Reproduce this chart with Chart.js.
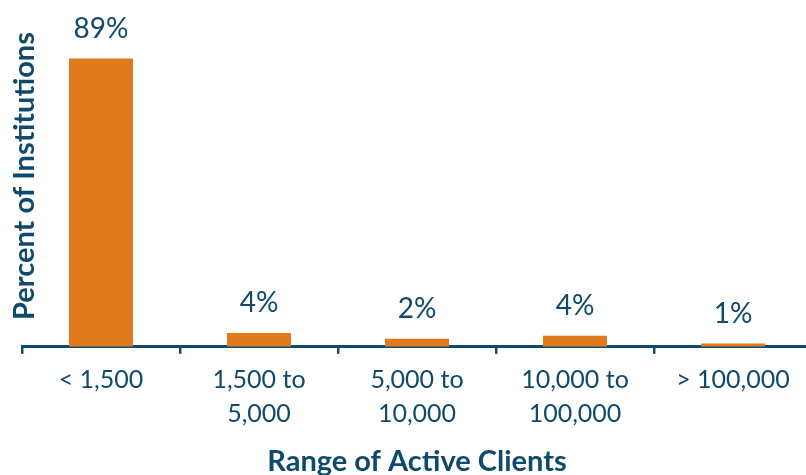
<!DOCTYPE html>
<html>
<head>
<meta charset="utf-8">
<script src="https://cdn.jsdelivr.net/npm/chart.js@4"></script>
<style>
  html, body { margin: 0; padding: 0; background: #fff; overflow: hidden; }
  #wrap { width: 812px; height: 475px; }
</style>
</head>
<body>
<div id="wrap"><canvas id="clientsChart" width="812" height="475"></canvas></div>
<script>
const categories = [["< 1,500"], ["1,500 to", "5,000"], ["5,000 to", "10,000"], ["10,000 to", "100,000"], ["> 100,000"]];
const percents = [89, 4.3, 2.5, 3.4, 1];
const percentLabels = ["89%", "4%", "2%", "4%", "1%"];

const navy = "#0F4A6C";
const orange = "#DF7A1E";

// value labels above bars + rotated y title
const labelPlugin = {
  id: "barLabels",
  afterDatasetsDraw(chart) {
    const ctx = chart.ctx;
    const meta = chart.getDatasetMeta(0);
    ctx.save();
    ctx.fillStyle = navy;
    ctx.font = "28px Lato";
    ctx.textAlign = "center";
    ctx.textBaseline = "middle";
    meta.data.forEach((bar, i) => {
      ctx.fillText(percentLabels[i], bar.x, bar.y - 30);
    });
    ctx.translate(25, 176);
    ctx.rotate(-Math.PI / 2);
    ctx.font = "bold 29px Lato";
    ctx.fillText("Percent of Institutions", 0, 0);
    ctx.restore();
  }
};

const ctx = document.getElementById("clientsChart").getContext("2d");
new Chart(ctx, {
  type: "bar",
  data: {
    labels: categories,
    datasets: [{
      data: percents,
      backgroundColor: orange,
      barPercentage: 0.81,
      categoryPercentage: 0.5
    }]
  },
  options: {
    responsive: false,
    animation: false,
    layout: { padding: { left: 22, right: 0, top: 23, bottom: 0.5 } },
    plugins: { legend: { display: false }, tooltip: { enabled: false } },
    scales: {
      y: { display: false, min: 0, max: 100 },
      x: {
        grid: {
          offset: true,
          drawOnChartArea: false,
          color: navy,
          lineWidth: 2.5,
          tickLength: 7
        },
        border: { color: navy, width: 3 },
        ticks: {
          color: navy,
          padding: 9,
          maxRotation: 0,
          autoSkip: false,
          font: { family: "Lato", size: 25, lineHeight: 1.36 }
        },
        title: {
          display: true,
          text: "Range of Active Clients",
          color: navy,
          padding: { top: 8.6, bottom: 0 },
          font: { family: "Lato", size: 29, weight: "bold", lineHeight: 0.9 }
        }
      }
    }
  },
  plugins: [labelPlugin]
});
</script>
</body>
</html>
